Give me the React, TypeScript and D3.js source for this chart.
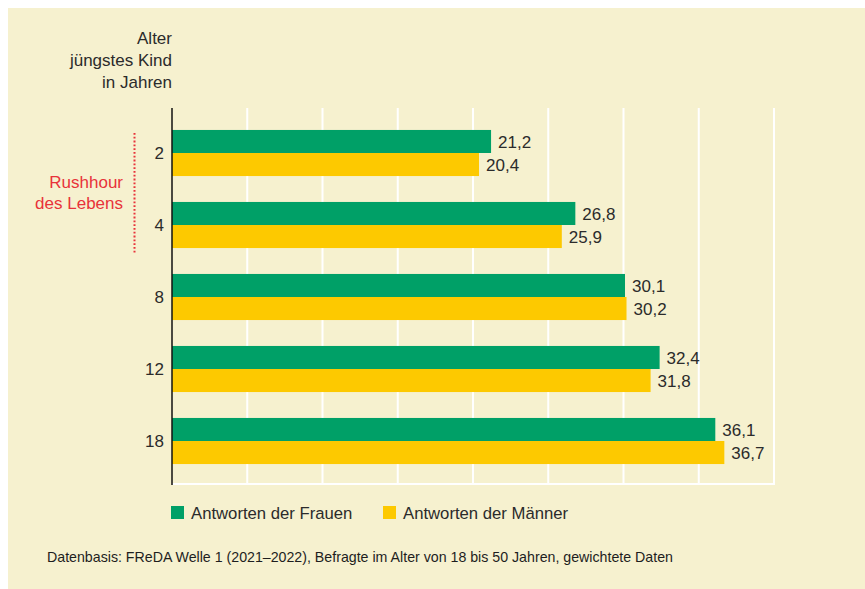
import React, { useRef, useEffect } from "react";
import * as d3 from "d3";

const categories = ["2", "4", "8", "12", "18"];
const frauen = [21.2, 26.8, 30.1, 32.4, 36.1];
const maenner = [20.4, 25.9, 30.2, 31.8, 36.7];
const gridTicks = [5, 10, 15, 20, 25, 30, 35, 40];
const headerLines = ["Alter", "jüngstes Kind", "in Jahren"];
const rushLines = ["Rushhour", "des Lebens"];
const legendLabels = ["Antworten der Frauen", "Antworten der Männer"];
const footnote = "Datenbasis: FReDA Welle 1 (2021–2022), Befragte im Alter von 18 bis 50 Jahren, gewichtete Daten";

const GREEN = "#00a067";
const YELLOW = "#fdc900";
const BG = "#f6f1cf";
const TEXT = "#2b2b2b";
const RED = "#e8333a";
const FONT = "'Liberation Sans', Arial, sans-serif";
const FS = 17;

const fmt = (v: number) => d3.format(".1f")(v).replace(".", ",");

export default function App() {
  const ref = useRef<SVGSVGElement>(null);

  useEffect(() => {
    const svg = d3.select(ref.current);
    svg.selectAll("*").remove();

    svg.append("rect").attr("width", 865).attr("height", 589).attr("fill", "#fff");
    svg.append("rect").attr("x", 8).attr("y", 8).attr("width", 857).attr("height", 581).attr("fill", BG);

    const x = d3.scaleLinear().domain([0, 40]).range([172, 774]);
    const y = d3.scaleBand().domain(categories).range([117, 477]).paddingInner(0.36).paddingOuter(0.18);
    const half = y.bandwidth() / 2;

    // grid lines
    svg.append("g").selectAll("line").data(gridTicks).join("line")
      .attr("x1", d => x(d)).attr("x2", d => x(d))
      .attr("y1", 108).attr("y2", 484)
      .attr("stroke", "#fff").attr("stroke-width", 2);
    svg.append("line")
      .attr("x1", x(0)).attr("x2", x(40) + 1)
      .attr("y1", 484).attr("y2", 484)
      .attr("stroke", "#fff").attr("stroke-width", 2);

    // bars
    const series = [
      { values: frauen, color: GREEN, off: 0 },
      { values: maenner, color: YELLOW, off: half },
    ];
    series.forEach(s => {
      const g = svg.append("g");
      g.selectAll("rect").data(categories).join("rect")
        .attr("x", x(0))
        .attr("y", (c) => (y(c) as number) + s.off)
        .attr("width", (_, i) => x(s.values[i]) - x(0))
        .attr("height", half)
        .attr("fill", s.color);
      g.selectAll("text").data(categories).join("text")
        .attr("x", (_, i) => x(s.values[i]) + 7)
        .attr("y", (c) => (y(c) as number) + s.off + half / 2)
        .attr("dy", "0.36em")
        .attr("font-family", FONT).attr("font-size", FS).attr("fill", TEXT)
        .text((_, i) => fmt(s.values[i]));
    });

    // axis line
    svg.append("line")
      .attr("x1", x(0)).attr("x2", x(0))
      .attr("y1", 108).attr("y2", 485)
      .attr("stroke", "#111").attr("stroke-width", 1.5);

    // category labels
    svg.append("g").selectAll("text").data(categories).join("text")
      .attr("x", 164)
      .attr("y", c => (y(c) as number) + half)
      .attr("dy", "0.36em")
      .attr("text-anchor", "end")
      .attr("font-family", FONT).attr("font-size", FS).attr("fill", TEXT)
      .text(c => c);

    // header
    svg.append("g").selectAll("text").data(headerLines).join("text")
      .attr("x", 172).attr("y", (_, i) => 44 + i * 22)
      .attr("text-anchor", "end")
      .attr("font-family", FONT).attr("font-size", FS).attr("fill", TEXT)
      .text(d => d);

    // rushhour annotation
    svg.append("g").selectAll("text").data(rushLines).join("text")
      .attr("x", 123).attr("y", (_, i) => 188 + i * 21)
      .attr("text-anchor", "end")
      .attr("font-family", FONT).attr("font-size", FS).attr("fill", RED)
      .text(d => d);
    svg.append("line")
      .attr("x1", 134.5).attr("x2", 134.5)
      .attr("y1", 133).attr("y2", 254)
      .attr("stroke", RED).attr("stroke-width", 2)
      .attr("stroke-dasharray", "1.8 2");

    // legend
    const legendX = [171, 383];
    const legendColors = [GREEN, YELLOW];
    const lg = svg.append("g").selectAll("g").data(legendLabels).join("g")
      .attr("transform", (_, i) => `translate(${legendX[i]},506)`);
    lg.append("rect").attr("width", 13).attr("height", 13).attr("fill", (_, i) => legendColors[i]);
    lg.append("text")
      .attr("x", 20).attr("y", 12.5)
      .attr("font-family", FONT).attr("font-size", 16.7).attr("fill", TEXT)
      .text(d => d);

    // footnote
    svg.append("text")
      .attr("x", 47).attr("y", 562)
      .attr("font-family", FONT).attr("font-size", 14.2).attr("fill", "#1e1e1e")
      .text(footnote);
  }, []);

  return (
    <svg
      ref={ref}
      width={865}
      height={589}
      style={{ position: "absolute", left: 0, top: 0, display: "block" }}
    />
  );
}
